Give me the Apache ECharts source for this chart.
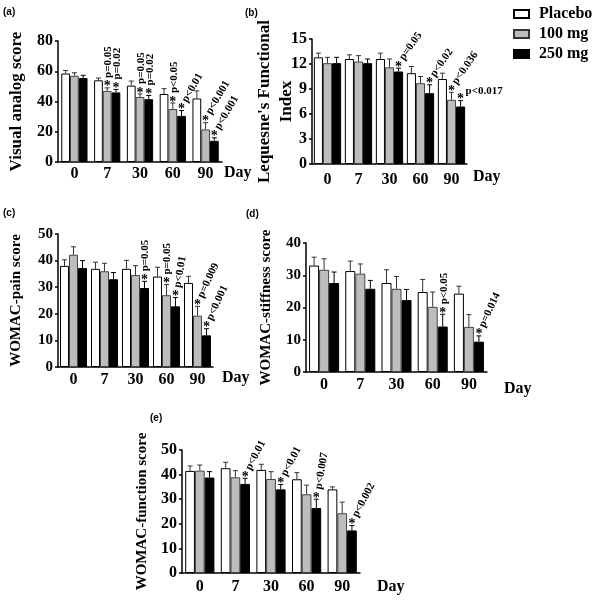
<!DOCTYPE html>
<html><head><meta charset="utf-8">
<script src="https://cdn.jsdelivr.net/npm/echarts@6.0.0/dist/echarts.min.js"></script>
<style>html,body{margin:0;padding:0;background:#fff}#c{width:600px;height:610px}</style>
</head><body><div id="c"></div>
<script>
// ---------- DATA ----------
const days = ['0', '7', '30', '60', '90'];
const groupNames = ['Placebo', '100 mg', '250 mg'];

// (a) Visual analog score
const vasPlacebo = [58.5, 54, 50.5, 45, 42];
const vasPlaceboErr = [2, 1.5, 3, 3.5, 5];
const vas100 = [57, 47, 43, 35, 21.5];
const vas100Err = [2, 2, 2, 4, 4.5];
const vas250 = [55.5, 46, 41.5, 30.5, 14];
const vas250Err = [1.8, 2, 2.5, 3.5, 2];
const vasTicks = [0, 80, 20];
const vasStars = [[1,1,'p=0.05','v'],[1,2,'p=0.02','v'],[2,1,'p=0.05','v'],[2,2,'p=0.02','v'],
                  [3,1,'p<0.05','v'],[3,2,'p<0.01','d'],[4,1,'p<0.001','d'],[4,2,'p<0.001','d']];

// (b) Lequesne's Functional Index
const lfiPlacebo = [12.8, 12.6, 12.6, 10.9, 10.2];
const lfiPlaceboErr = [0.5, 0.5, 0.7, 0.8, 0.7];
const lfi100 = [12.1, 12.3, 11.6, 9.7, 7.7];
const lfi100Err = [0.7, 0.7, 1.0, 0.8, 0.9];
const lfi250 = [12.1, 12.1, 11.1, 8.5, 6.9];
const lfi250Err = [0.7, 0.5, 0.4, 1.0, 0.7];
const lfiTicks = [0, 15, 3];
const lfiStars = [[2,2,'p=0.05','d'],[3,2,'p<0.02','d'],[4,1,'p<0.036','d'],[4,2,'p<0.017','h']];

// (c) WOMAC-pain score
const painPlacebo = [38, 36.9, 36.9, 34, 31.6];
const painPlaceboErr = [2.3, 2.5, 3.2, 3.5, 2.5];
const pain100 = [42.2, 36, 34.6, 27, 19.3];
const pain100Err = [3, 3, 3.5, 4, 3.5];
const pain250 = [37.2, 33, 29.7, 22.8, 11.9];
const pain250Err = [2.8, 2.5, 2.5, 3.3, 2.5];
const painTicks = [0, 50, 10];
const painStars = [[2,2,'p=0.05','v'],[3,1,'p=0.05','v'],[3,2,'p<0.01','s'],[4,1,'p=0.009','d'],[4,2,'p<0.001','d']];

// (d) WOMAC-stiffness score
const stiffPlacebo = [33, 31.3, 27.6, 24.8, 24.3];
const stiffPlaceboErr = [2.6, 3.1, 4.1, 3.9, 2.3];
const stiff100 = [31.7, 30.5, 25.8, 20.2, 14];
const stiff100Err = [3.4, 3, 3.8, 4.6, 3.8];
const stiff250 = [27.6, 25.8, 22.3, 14.1, 9.4];
const stiff250Err = [3.4, 2.6, 3.3, 3.8, 1.8];
const stiffTicks = [0, 40, 10];
const stiffStars = [[3,2,'p<0.05','v'],[4,2,'p=0.014','d']];

// (e) WOMAC-function score
const funcPlacebo = [41.5, 42.6, 41.9, 38.1, 34];
const funcPlaceboErr = [2, 2.4, 2.3, 2.7, 1];
const func100 = [41.6, 38.9, 38.2, 32, 24.3];
const func100Err = [2.3, 2.7, 3, 3.7, 4.5];
const func250 = [38.8, 36.2, 34, 26.4, 17.3];
const func250Err = [2.4, 2.3, 2, 3.6, 2];
const funcTicks = [0, 50, 10];
const funcStars = [[1,2,'p<0.01','d'],[2,2,'p<0.01','d'],[3,2,'p<0.007','s'],[4,2,'p<0.002','d']];

const xUnit = 'Day';

// ---------- LAYOUT / STYLE ----------
const SERIF = '"Liberation Serif","Times New Roman",serif';
const panels = [
  {label:'(a)', lx:3, ly:7, title:'Visual analog score', vals:[vasPlacebo,vas100,vas250], errs:[vasPlaceboErr,vas100Err,vas250Err],
   ticks:vasTicks, stars:vasStars, grid:{left:58, top:41, width:164, height:121}, gap:0.2, nameGap:30, titleSize:17, tickSize:16,
   xMargin:4, dayGap:2, dayOff:11, diag:60},
  {label:'(b)', lx:245, ly:8, title:"Lequesne's Functional\nIndex", vals:[lfiPlacebo,lfi100,lfi250], errs:[lfiPlaceboErr,lfi100Err,lfi250Err],
   ticks:lfiTicks, stars:lfiStars, grid:{left:312, top:39, width:155, height:125}, gap:0.12, nameGap:14, titleSize:17, tickSize:16,
   xMargin:8, dayGap:6, dayOff:13, diag:55},
  {label:'(c)', lx:3, ly:208, title:'WOMAC-pain score', vals:[painPlacebo,pain100,pain250], errs:[painPlaceboErr,pain100Err,pain250Err],
   ticks:painTicks, stars:painStars, grid:{left:58, top:234, width:155, height:133}, gap:0.13, nameGap:31, titleSize:15, tickSize:15,
   xMargin:5, dayGap:9, dayOff:11, diag:65},
  {label:'(d)', lx:246, ly:209, title:'WOMAC-stiffness score', vals:[stiffPlacebo,stiff100,stiff250], errs:[stiffPlaceboErr,stiff100Err,stiff250Err],
   ticks:stiffTicks, stars:stiffStars, grid:{left:306, top:243, width:181, height:129}, gap:0.17, nameGap:29, titleSize:15, tickSize:15,
   xMargin:5, dayGap:17, dayOff:17, diag:65},
  {label:'(e)', lx:150, ly:413, title:'WOMAC-function score', vals:[funcPlacebo,func100,func250], errs:[funcPlaceboErr,func100Err,func250Err],
   ticks:funcTicks, stars:funcStars, grid:{left:182, top:450, width:178, height:123}, gap:0.18, nameGap:29, titleSize:15, tickSize:16,
   xMargin:6, dayGap:17, dayOff:14, diag:62}
];

const barStyles = [
  {color:'#ffffff', borderColor:'#000', borderWidth:1},
  {color:'#bdbdbd', borderColor:'#444', borderWidth:1},
  {color:'#000000', borderColor:'#000', borderWidth:1}
];

const grids = [], xAxes = [], yAxes = [], series = [], graphics = [];

panels.forEach((p, pi) => {
  grids.push(Object.assign({}, p.grid));
  xAxes.push({
    type:'category', gridIndex:pi, data:days,
    axisLine:{lineStyle:{color:'#000', width:1.5}},
    axisTick:{show:false},
    axisLabel:{fontFamily:SERIF, fontWeight:'bold', fontSize:16, color:'#000', margin:p.xMargin},
    splitLine:{show:false}
  });
  yAxes.push({
    type:'value', gridIndex:pi, min:p.ticks[0], max:p.ticks[1], interval:p.ticks[2],
    axisLine:{show:true, lineStyle:{color:'#000', width:1.5}},
    axisTick:{show:true, length:3, lineStyle:{color:'#000', width:1.5}},
    axisLabel:{fontFamily:SERIF, fontWeight:'bold', fontSize:p.tickSize, color:'#000', margin:5},
    splitLine:{show:false},
    name:p.title, nameLocation:'middle', nameGap:p.nameGap, nameRotate:90, nameMoveOverlap:false,
    nameTextStyle:{fontFamily:SERIF, fontWeight:'bold', fontSize:p.titleSize, color:'#000', lineHeight:22}
  });
  for (let s = 0; s < 3; s++) {
    series.push({
      type:'bar', name:groupNames[s], xAxisIndex:pi, yAxisIndex:pi,
      data:p.vals[s], barGap:'0%', barCategoryGap:(p.gap*100)+'%',
      itemStyle:barStyles[s], silent:true, animation:false
    });
  }
  // error bars
  const errData = [];
  for (let s = 0; s < 3; s++) for (let c = 0; c < days.length; c++) errData.push([c, s, p.vals[s][c], p.errs[s][c]]);
  series.push({
    type:'custom', xAxisIndex:pi, yAxisIndex:pi, data:errData, z:5, silent:true, animation:false, clip:false,
    encode:{x:0, y:2},
    renderItem:function(params, api){
      const c = api.value(0), s = api.value(1), v = api.value(2), e = api.value(3);
      const p0 = api.coord([c, v]), p1 = api.coord([c, v + e]);
      const band = api.size([1, 0])[0];
      const bw = band * (1 - p.gap) / 3;
      const x = p0[0] + (s - 1) * bw;
      const col = s === 2 ? '#000' : '#333';
      return {type:'group', children:[
        {type:'line', shape:{x1:x, y1:p0[1], x2:x, y2:p1[1]}, style:{stroke:col, lineWidth:1}},
        {type:'line', shape:{x1:x - 2.5, y1:p1[1], x2:x + 2.5, y2:p1[1]}, style:{stroke:col, lineWidth:1}}
      ]};
    }
  });
  // significance annotations
  const annData = p.stars.map(a => [a[0], p.vals[a[1]][a[0]] + p.errs[a[1]][a[0]], a[1]]);
  series.push({
    type:'custom', xAxisIndex:pi, yAxisIndex:pi, data:annData, z:6, silent:true, animation:false, clip:false,
    encode:{x:0, y:1},
    renderItem:function(params, api){
      const a = p.stars[params.dataIndex];
      const c = api.value(0), top = api.value(1), s = api.value(2);
      const pt = api.coord([c, top]);
      const band = api.size([1, 0])[0];
      const bw = band * (1 - p.gap) / 3;
      const x = pt[0] + (s - 1) * bw, y = pt[1];
      const mode = a[3];
      let tx, ty, rot;
      if (mode === 'v') { tx = x + 1; ty = y - 10; rot = 90; }
      else if (mode === 's') { tx = x + 2; ty = y - 10; rot = 80; }
      else if (mode === 'd') { tx = x + 3; ty = y - 9; rot = p.diag; }
      else { tx = x + 5; ty = y - 10; rot = 0; }
      return {type:'group', children:[
        {type:'text', x:x, y:y - 1, style:{text:'*', fontFamily:SERIF, fontWeight:'bold', fontSize:14, fill:'#000', align:'center', verticalAlign:'middle'}},
        {type:'text', x:tx, y:ty, rotation:rot * Math.PI / 180,
         style:{text:a[2], fontFamily:SERIF, fontWeight:'bold', fontSize:11, fill:'#000', align:'left', verticalAlign:'middle'}}
      ]};
    }
  });
  graphics.push({type:'text', left:p.lx, top:p.ly, style:{text:p.label, fontFamily:'"Liberation Sans",Arial,sans-serif', fontWeight:'bold', fontSize:10, fill:'#000'}});
  graphics.push({type:'text', x:p.grid.left + p.grid.width + p.dayGap, y:p.grid.top + p.grid.height + p.dayOff,
    style:{text:xUnit, fontFamily:SERIF, fontWeight:'bold', fontSize:16, fill:'#000', align:'left', verticalAlign:'middle'}});
});

const chart = echarts.init(document.getElementById('c'), null, {renderer:'canvas'});
chart.setOption({
  animation:false,
  backgroundColor:'#fff',
  grid:grids, xAxis:xAxes, yAxis:yAxes, series:series, graphic:graphics,
  legend:{
    orient:'vertical', left:508, top:1, itemWidth:15, itemHeight:8, itemGap:4, selectedMode:false,
    data:[
      {name:'Placebo', icon:'rect', itemStyle:{borderWidth:2, borderColor:'#000', color:'#fff'}},
      {name:'100 mg', icon:'rect', itemStyle:{borderWidth:2, borderColor:'#333', color:'#bdbdbd'}},
      {name:'250 mg', icon:'rect', itemStyle:{borderWidth:2, borderColor:'#000', color:'#000'}}
    ],
    textStyle:{fontFamily:SERIF, fontWeight:'bold', fontSize:16, color:'#000', padding:[0,0,0,5]}
  }
});
</script></body></html>
